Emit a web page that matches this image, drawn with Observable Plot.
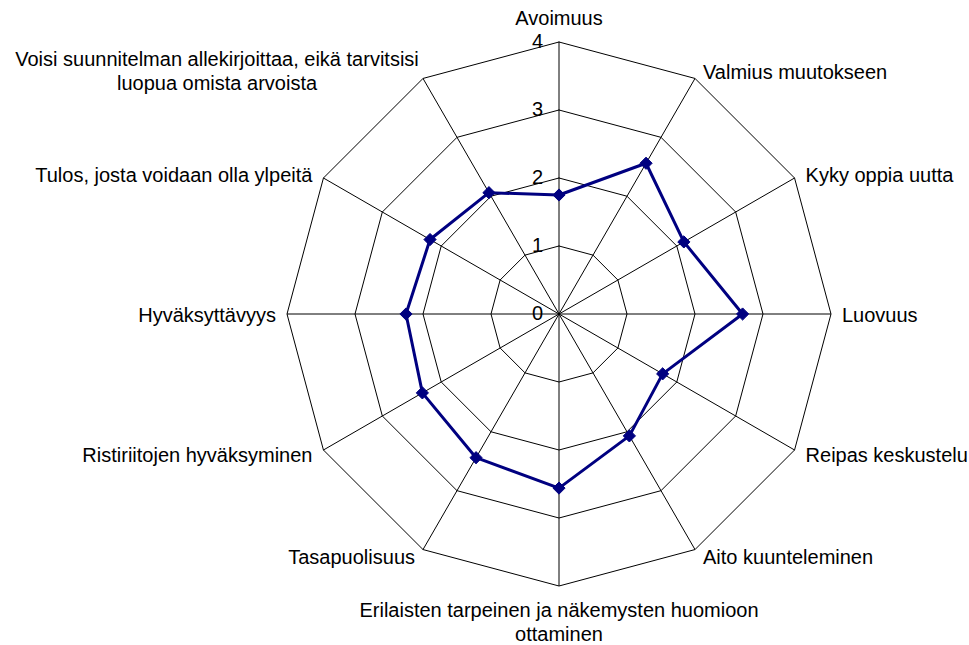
<!DOCTYPE html>
<html>
<head>
<meta charset="utf-8">
<script src="https://cdn.jsdelivr.net/npm/d3@7"></script>
<script src="https://cdn.jsdelivr.net/npm/@observablehq/plot@0.6"></script>
<style>
  html, body { margin: 0; padding: 0; background: #fff; }
  #chart svg { display: block; }
</style>
</head>
<body>
<div id="chart"></div>
<script>
// Axis categories, clockwise from the top
const categories = [
  "Avoimuus",
  "Valmius muutokseen",
  "Kyky oppia uutta",
  "Luovuus",
  "Reipas keskustelu",
  "Aito kuunteleminen",
  "Erilaisten tarpeinen ja näkemysten huomioon\nottaminen",
  "Tasapuolisuus",
  "Ristiriitojen hyväksyminen",
  "Hyväksyttävyys",
  "Tulos, josta voidaan olla ylpeitä",
  "Voisi suunnitelman allekirjoittaa, eikä tarvitsisi\nluopua omista arvoista"
];
// Series values (0–4 scale)
const values = [1.75, 2.56, 2.12, 2.70, 1.76, 2.07, 2.56, 2.44, 2.32, 2.25, 2.19, 2.06];
// Radial tick labels
const ticks = [0, 1, 2, 3, 4];

const N = categories.length;
const maxR = d3.max(ticks);
const ang = i => (i * 2 * Math.PI) / N;
const px = (r, i) => r * Math.sin(ang(i));
const py = (r, i) => r * Math.cos(ang(i));

// Grid rings
const rings = ticks.filter(t => t > 0).flatMap(t =>
  d3.range(N + 1).map(k => ({level: t, x: px(t, k % N), y: py(t, k % N)}))
);
// Spokes
const spokes = categories.map((c, i) => ({x1: 0, y1: 0, x2: px(maxR, i), y2: py(maxR, i)}));
// Series (closed)
const series = d3.range(N + 1).map(k => ({
  cat: categories[k % N], v: values[k % N],
  x: px(values[k % N], k % N), y: py(values[k % N], k % N)
}));
const points = series.slice(0, N);

const font = "'Liberation Sans', Arial, Helvetica, sans-serif";
const navy = "#000080";

// Category label marks
const labelMarks = categories.map((c, i) => {
  const s = Math.sin(ang(i)), co = Math.cos(ang(i));
  const multi = c.includes("\n");
  const base = {x: () => px(maxR, i), y: () => py(maxR, i), text: d => d, fontSize: 20, fill: "#000", lineHeight: 1.2};
  if (i === 0) return Plot.text([c], {...base, textAnchor: "middle", dy: -25});
  if (i === N / 2) return Plot.text([c], {...base, textAnchor: "middle", lineAnchor: "middle", dy: 35});
  if (multi) {
    return Plot.text([c], {...base, textAnchor: "middle", lineAnchor: "middle", dx: -206, dy: -8});
  }
  const dx = Math.sign(s) * (Math.abs(s) < 0.6 ? 8 : 11);
  const dy = -co * 8;
  return Plot.text([c], {...base, textAnchor: s > 0 ? "start" : "end", dx, dy});
});

const chart = Plot.plot({
  width: 969,
  height: 645,
  margin: 0,
  style: {fontFamily: font, background: "#fff"},
  x: {domain: [-maxR, maxR], range: [558.5 - 272, 558.5 + 272], axis: null},
  y: {domain: [-maxR, maxR], range: [313.5 + 272, 313.5 - 272], axis: null},
  marks: [
    Plot.line(rings, {x: "x", y: "y", z: "level", stroke: "#000", strokeWidth: 1}),
    Plot.link(spokes, {x1: "x1", y1: "y1", x2: "x2", y2: "y2", stroke: "#000", strokeWidth: 1}),
    Plot.text(ticks, {x: 0, y: d => d, text: d => String(d), textAnchor: "end", dx: -16, dy: 0, fontSize: 20, fill: "#000"}),
    Plot.line(series, {x: "x", y: "y", stroke: navy, strokeWidth: 3, curve: "linear"}),
    Plot.dot(points, {x: "x", y: "y", symbol: "diamond2", r: 5.5, fill: navy, stroke: navy, strokeWidth: 1}),
    ...labelMarks
  ]
});
document.getElementById("chart").appendChild(chart);
</script>
</body>
</html>
